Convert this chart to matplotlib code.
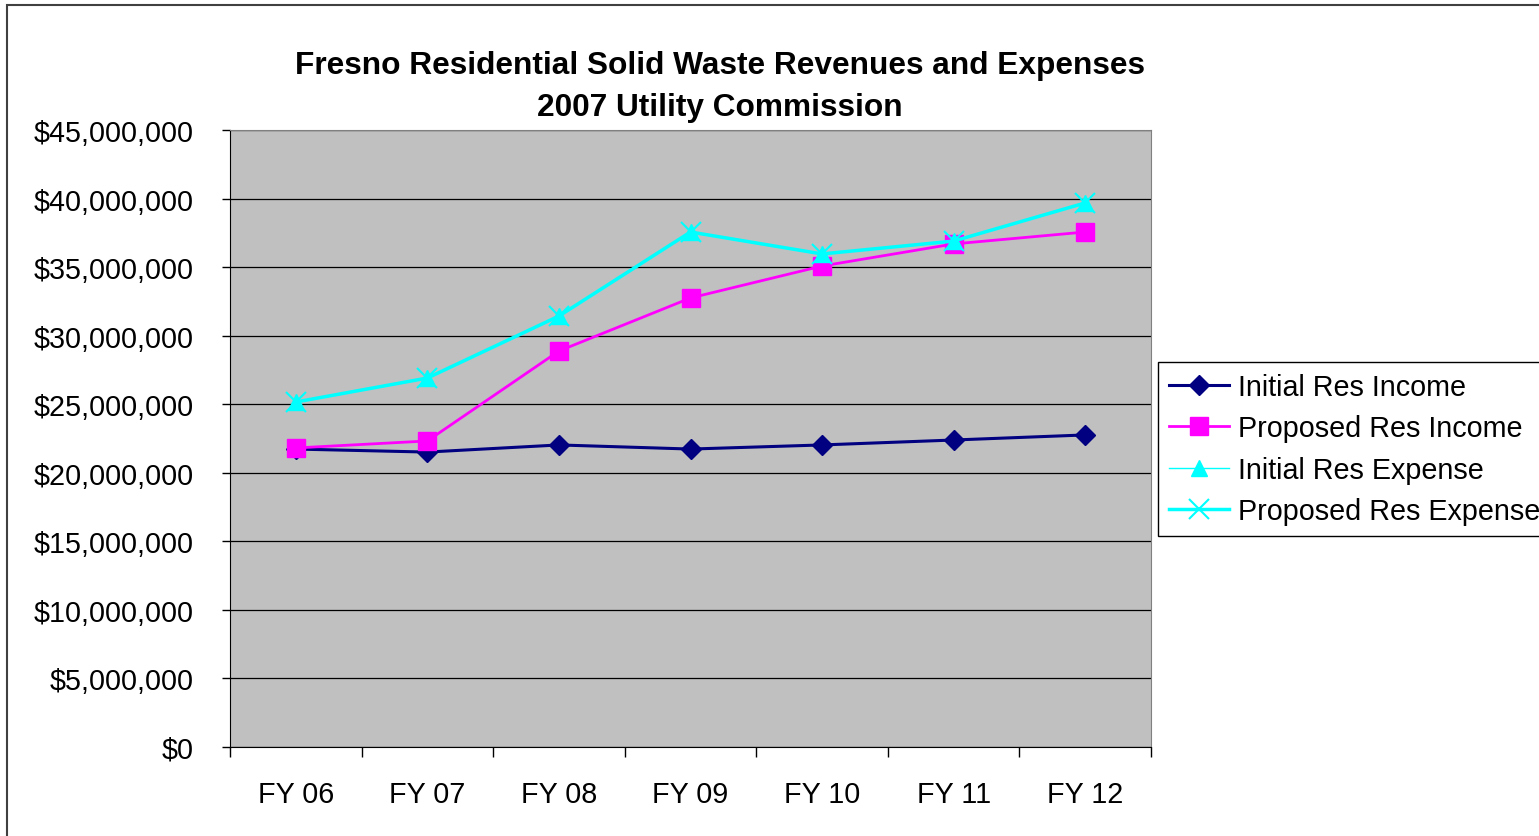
import matplotlib
matplotlib.use("Agg")
import matplotlib.pyplot as plt
from matplotlib.ticker import FuncFormatter, FixedLocator
from matplotlib.patches import Rectangle

plt.rcParams['font.family'] = ['Liberation Sans', 'DejaVu Sans']

categories = ["FY 06", "FY 07", "FY 08", "FY 09", "FY 10", "FY 11", "FY 12"]
initial_res_income = [21.73e6, 21.51e6, 22.03e6, 21.73e6, 22.03e6, 22.39e6, 22.76e6]
proposed_res_income = [21.81e6, 22.32e6, 28.88e6, 32.75e6, 35.08e6, 36.69e6, 37.56e6]
initial_res_expense = [25.16e6, 26.91e6, 31.43e6, 37.56e6, 35.96e6, 36.90e6, 39.68e6]
proposed_res_expense = [25.16e6, 26.91e6, 31.43e6, 37.56e6, 35.96e6, 36.90e6, 39.68e6]
title = "Fresno Residential Solid Waste Revenues and Expenses\n2007 Utility Commission"

W, H = 1539, 837
fig = plt.figure(figsize=(W / 100, H / 100), dpi=100)

# chart area border
fig.patches.append(Rectangle((7 / W, -0.1), 2.0, 1 - 6 / H + 0.1, transform=fig.transFigure,
                             fill=False, edgecolor='#404040', linewidth=1.5))

left, right, top, bottom = 230, 1151, 131, 748
ax = fig.add_axes([left / W, 1 - bottom / H, (right - left) / W, (bottom - top) / H])
ax.set_facecolor('#C0C0C0')

FS = 20.7
x = list(range(len(categories)))
ax.plot(x, initial_res_income, color='#000080', lw=2.2, marker='D', ms=10.5, label='Initial Res Income', zorder=3)
ax.plot(x, proposed_res_income, color='#FF00FF', lw=2.0, marker='s', ms=13.5, label='Proposed Res Income', zorder=4)
ax.plot(x, initial_res_expense, color='#00FFFF', lw=1.0, marker='^', ms=11, label='Initial Res Expense', zorder=5)
ax.plot(x, proposed_res_expense, color='#00FFFF', lw=2.5, marker='x', ms=14, mew=1.5, label='Proposed Res Expense', zorder=6)

ax.set_xlim(-0.5, len(categories) - 0.5)
ax.set_ylim(0, 45e6)
ax.set_yticks([i * 5e6 for i in range(10)])
ax.yaxis.set_major_formatter(FuncFormatter(lambda v, p: "${:,.0f}".format(v)))
ax.set_xticks(x)
ax.set_xticklabels(categories)
ax.xaxis.set_minor_locator(FixedLocator([i - 0.5 for i in range(len(categories) + 1)]))
ax.tick_params(axis='x', which='major', length=0, pad=24, labelsize=FS)
ax.tick_params(axis='x', which='minor', length=7, width=1, color='black')
ax.tick_params(axis='y', which='major', length=6, width=1, pad=20, labelsize=FS, color='black')
ax.yaxis.grid(True, color='black', lw=0.9)
ax.set_axisbelow(True)
for s in ['top', 'right']:
    ax.spines[s].set_color('#808080')
for s in ['left', 'bottom']:
    ax.spines[s].set_color('black')

fig.text(720 / W, 1 - 87 / H, title, ha='center', va='center',
         fontsize=22.8, fontweight='bold', linespacing=1.5)

leg = fig.legend(loc='upper left', bbox_to_anchor=(1158 / W, 1 - 363 / H), fontsize=FS,
                 frameon=True, fancybox=False, edgecolor='black', framealpha=1,
                 handlelength=2.1, handletextpad=0.3, labelspacing=0.47, borderpad=0.38,
                 borderaxespad=0)
leg.get_frame().set_linewidth(1.0)

fig.savefig('out.png', dpi=100)
